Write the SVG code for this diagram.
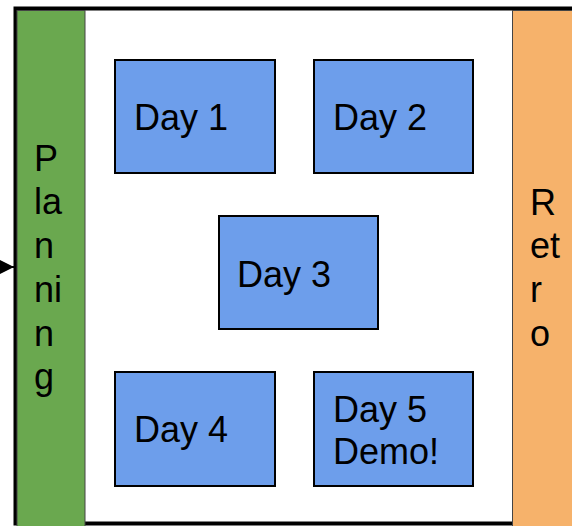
<svg xmlns="http://www.w3.org/2000/svg" width="572" height="526" viewBox="0 0 572 526">
  <style>
    .day { fill: #6d9eeb; stroke: #000; stroke-width: 2; }
    .lbl { font-family: "Liberation Sans", Arial, sans-serif; font-size: 36px; fill: #000; }
  </style>
  <defs>
    <marker id="arrow" viewBox="0 0 10 10" refX="10" refY="5" markerWidth="15" markerHeight="16" markerUnits="userSpaceOnUse" orient="auto">
      <path d="M0,0 L10,5 L0,10 z" fill="#000"/>
    </marker>
  </defs>
  <rect width="572" height="526" fill="#fff"/>

  <!-- sprint frame -->
  <g id="sprint">
    <rect x="15.5" y="8.5" width="600" height="515" fill="#fff" stroke="#000" stroke-width="4"/>
  </g>

  <g id="planning">
    <rect x="17" y="10.5" width="68" height="520" fill="#6aa84f" stroke="#444" stroke-width="1"/>
    <text class="lbl">
      <tspan x="34" y="171">P</tspan>
      <tspan x="34" y="214">la</tspan>
      <tspan x="34" y="258">n</tspan>
      <tspan x="34" y="302">ni</tspan>
      <tspan x="34" y="346">n</tspan>
      <tspan x="34" y="389">g</tspan>
    </text>
  </g>

  <g id="retro">
    <rect x="512.5" y="10.5" width="80" height="520" fill="#f6b26b" stroke="#444" stroke-width="1"/>
    <text class="lbl">
      <tspan x="530" y="215">R</tspan>
      <tspan x="530" y="258">et</tspan>
      <tspan x="530" y="302">r</tspan>
      <tspan x="530" y="346">o</tspan>
    </text>
  </g>

  <g id="day1">
    <rect class="day" x="115" y="60" width="160" height="113"/>
    <text class="lbl" x="134" y="130">Day 1</text>
  </g>
  <g id="day2">
    <rect class="day" x="314" y="60" width="159" height="113"/>
    <text class="lbl" x="333" y="130">Day 2</text>
  </g>
  <g id="day3">
    <rect class="day" x="219" y="216" width="159" height="113"/>
    <text class="lbl" x="237" y="287">Day 3</text>
  </g>
  <g id="day4">
    <rect class="day" x="115" y="372" width="160" height="114"/>
    <text class="lbl" x="134" y="442">Day 4</text>
  </g>
  <g id="day5">
    <rect class="day" x="314" y="372" width="159" height="114"/>
    <text class="lbl" x="333" y="422">Day 5</text>
    <text class="lbl" x="333" y="464">Demo!</text>
  </g>

  <g id="connectors">
    <line x1="-20" y1="267" x2="14" y2="267" stroke="#000" stroke-width="2" marker-end="url(#arrow)"/>
  </g>
</svg>
